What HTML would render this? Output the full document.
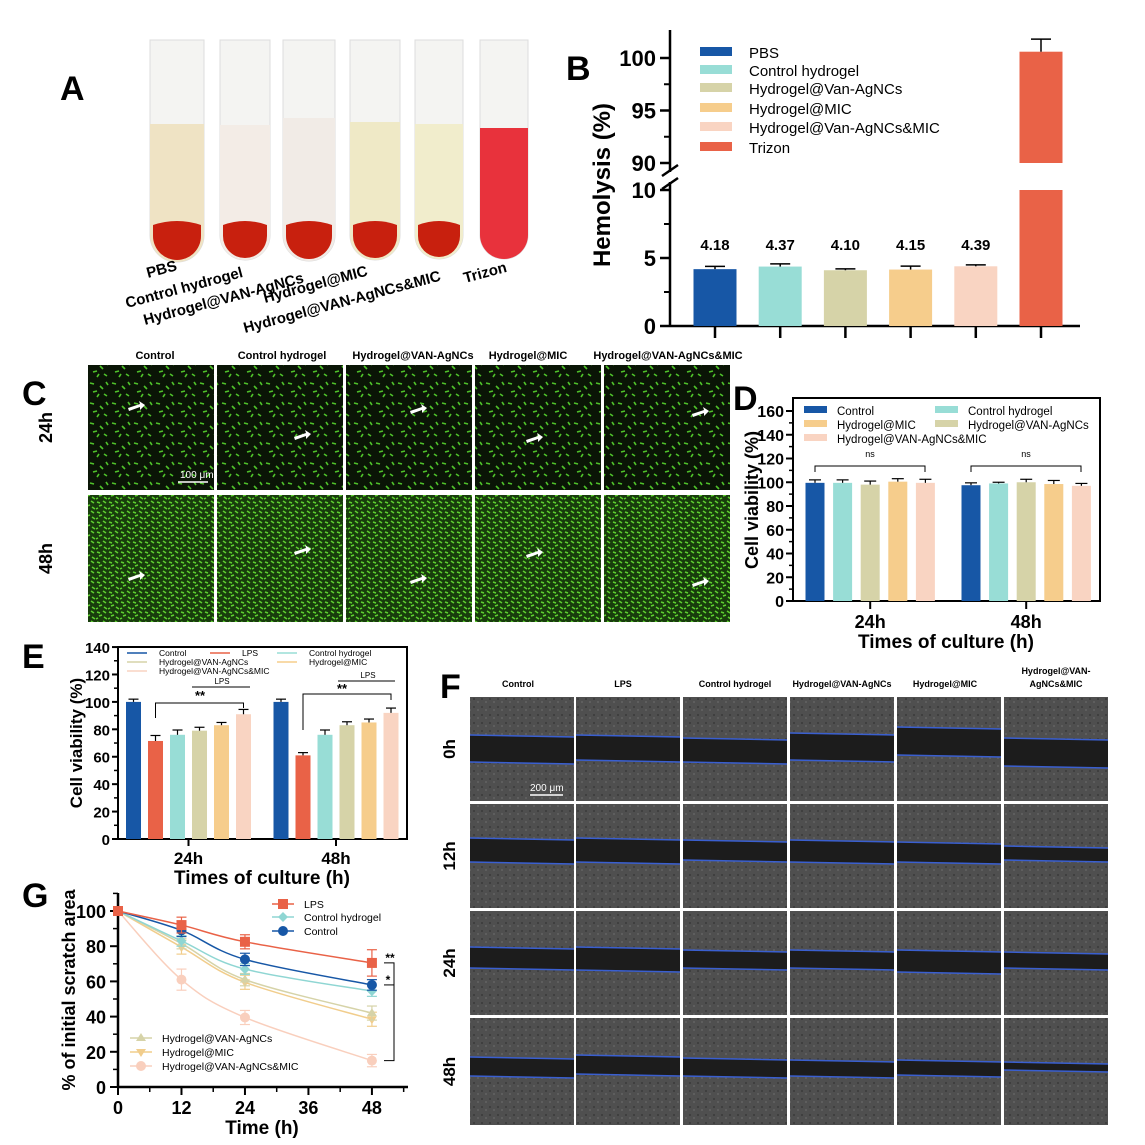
<!DOCTYPE html>
<html><head><meta charset="utf-8">
<style>
html,body{margin:0;padding:0;background:#fff;}
svg{display:block;font-family:"Liberation Sans",Arial,sans-serif;}
</style></head>
<body>
<svg id="fig" width="1145" height="1145" viewBox="0 0 1145 1145" xmlns="http://www.w3.org/2000/svg">
<defs>
<pattern id="g24" width="22" height="20" patternUnits="userSpaceOnUse">
<rect width="22" height="20" fill="#0a1506"/>
<path d="M2 3l4 1M12 6l3 3M5 12l4-1M16 14l3 2M9 17l2-3M18 2l2 3" stroke="#4fc22a" stroke-width="1.6"/>
</pattern>
<pattern id="g48" width="12" height="10" patternUnits="userSpaceOnUse">
<rect width="12" height="10" fill="#183d0c"/>
<path d="M1 2l3 1M7 1l3 2M3 6l3-1M8 7l3 2M0 9l2-1" stroke="#5ed030" stroke-width="1.5"/>
</pattern>
<pattern id="grey" width="8" height="8" patternUnits="userSpaceOnUse">
<rect width="8" height="8" fill="#4f4f4f"/>
<rect x="1" y="2" width="2" height="2" fill="#3f3f3f"/><rect x="5" y="5" width="2" height="2" fill="#5e5e5e"/>
</pattern>
</defs>

<g>
<text x="60" y="100" font-size="34" font-weight="bold">A</text>
<g id="tubes"></g>
<g font-size="15" font-weight="bold">
<text transform="translate(148,278) rotate(-15)">PBS</text>
<text transform="translate(127,308) rotate(-15)">Control hydrogel</text>
<text transform="translate(145,325) rotate(-15)">Hydrogel@VAN-AgNCs</text>
<text transform="translate(265,303) rotate(-15)">Hydrogel@MIC</text>
<text transform="translate(245,333) rotate(-15)">Hydrogel@VAN-AgNCs&amp;MIC</text>
<text transform="translate(465,283) rotate(-15)">Trizon</text>
</g>
</g>

<g id="panelB">
<text x="566" y="80" font-size="34" font-weight="bold">B</text>
</g>
<g id="panelC">
<text x="22" y="405" font-size="34" font-weight="bold">C</text>
</g>
<g id="panelD">
<text x="733" y="410" font-size="34" font-weight="bold">D</text>
</g>
<g id="panelE">
<text x="22" y="668" font-size="34" font-weight="bold">E</text>
</g>
<g id="panelF">
<text x="440" y="698" font-size="34" font-weight="bold">F</text>
</g>
<g id="panelG">
<text x="22" y="907" font-size="34" font-weight="bold">G</text>
</g>
</svg>

<script>
const NS="http://www.w3.org/2000/svg";
function mk(tag,attrs,parent,text){const e=document.createElementNS(NS,tag);for(const k in attrs)e.setAttribute(k,attrs[k]);if(text!==undefined)e.textContent=text;parent.appendChild(e);return e;}

/* ---------- Panel A tubes ---------- */
const tubeX=[150,220,283,350,415,480];
const tubeW=[54,50,52,50,48,48];
const tubeLiquid=["#efe3c4","#f3ece6","#f1ebe6","#efe9c6","#f1edcc","#e8323c"];
const tubeLevel=[124,125,118,122,124,128];
const tubesG=document.getElementById('tubes');
tubeX.forEach((x,i)=>{
  const w=tubeW[i];
  const g=mk('g',{},tubesG);
  
  
  mk('path',{d:`M${x} 40 V${235} a${w/2} ${w/2} 0 0 0 ${w} 0 V40 Z`,fill:'#f4f4f2',stroke:'#ddd'},g);
  mk('path',{d:`M${x} ${tubeLevel[i]} V235 a${w/2} ${w/2} 0 0 0 ${w} 0 V${tubeLevel[i]} Z`,fill:tubeLiquid[i]},g);
  if(i<5) mk('path',{d:`M${x+3} 225 q${w/2-3} -8 ${w-6} 0 V236 a${w/2-3} ${w/2-3} 0 0 1 ${-(w-6)} 0 Z`,fill:'#c8200e'},g);
});

/* ---------- Panel B ---------- */
const bGroups=["PBS","Control hydrogel","Hydrogel@Van-AgNCs","Hydrogel@MIC","Hydrogel@Van-AgNCs&MIC","Trizon"];
const bValues=[4.18,4.37,4.10,4.15,4.39,100.6];
const bErrors=[0.2,0.2,0.1,0.25,0.1,1.2];
const bLabels=["4.18","4.37","4.10","4.15","4.39",""];
const bColors=["#1757a6","#98ddd6","#d6d3a8","#f6cd8c","#f9d4c2","#e96247"];
(function(){
  const P=document.getElementById('panelB');
  const yLow=v=>326-(v/10)*136;
  const yHigh=v=>163-(v-90)*10.5;
  const y=v=>v<=10?yLow(v):yHigh(v);
  const x0=670;
  mk('line',{x1:x0,y1:30,x2:x0,y2:172,stroke:'#000','stroke-width':2.5},P);
  mk('line',{x1:x0,y1:182,x2:x0,y2:327,stroke:'#000','stroke-width':2.5},P);
  mk('line',{x1:x0,y1:326,x2:1080,y2:326,stroke:'#000','stroke-width':2.5},P);
  mk('line',{x1:x0-8,y1:176,x2:x0+8,y2:165,stroke:'#000','stroke-width':2.5},P);
  mk('line',{x1:x0-8,y1:189,x2:x0+8,y2:178,stroke:'#000','stroke-width':2.5},P);
  [0,5,10].forEach(t=>{mk('line',{x1:x0-10,y1:yLow(t),x2:x0,y2:yLow(t),stroke:'#000','stroke-width':2.5},P);
    const tx=mk('text',{x:x0-14,y:yLow(t)+8,'font-size':22,'font-weight':'bold','text-anchor':'end'},P,String(t));
    });
  [2.5,7.5].forEach(t=>mk('line',{x1:x0-6,y1:yLow(t),x2:x0,y2:yLow(t),stroke:'#000','stroke-width':2},P));
  [90,95,100].forEach(t=>{mk('line',{x1:x0-10,y1:yHigh(t),x2:x0,y2:yHigh(t),stroke:'#000','stroke-width':2.5},P);
    const tx=mk('text',{x:x0-14,y:yHigh(t)+8,'font-size':22,'font-weight':'bold','text-anchor':'end'},P,String(t));
    });
  [92.5,97.5].forEach(t=>mk('line',{x1:x0-6,y1:yHigh(t),x2:x0,y2:yHigh(t),stroke:'#000','stroke-width':2},P));
  const yl=mk('text',{transform:'translate(610,185) rotate(-90)','font-size':24,'font-weight':'bold','text-anchor':'middle'},P,'Hemolysis (%)');
  
  bValues.forEach((v,i)=>{
    const cx=715+i*65.2, w=43;
    if(v<=10){
      const r=mk('rect',{x:cx-w/2,y:y(v),width:w,height:326-y(v),fill:bColors[i]},P);
      
    }else{
      const r=mk('rect',{x:cx-w/2,y:yLow(10),width:w,height:326-yLow(10),fill:bColors[i]},P);
      
      const r2=mk('rect',{x:cx-w/2,y:yHigh(v),width:w,height:yHigh(90)-yHigh(v),fill:bColors[i]},P);
      
    }
    const ye=y(v+bErrors[i]);
    mk('line',{x1:cx,y1:y(v),x2:cx,y2:ye,stroke:'#000','stroke-width':1.5},P);
    mk('line',{x1:cx-10,y1:ye,x2:cx+10,y2:ye,stroke:'#000','stroke-width':1.5},P);
    mk('line',{x1:cx,y1:326,x2:cx,y2:338,stroke:'#000','stroke-width':2.5},P);
    if(bLabels[i]){const t=mk('text',{x:cx,y:250,'font-size':15,'font-weight':'bold','text-anchor':'middle'},P,bLabels[i]);
      }
  });
  const ly=[52,70,88,108,127,147];
  bGroups.forEach((g,i)=>{
    const e=mk('g',{},P);
    
    mk('rect',{x:700,y:ly[i]-5,width:32,height:9,fill:bColors[i]},e);
    mk('text',{x:749,y:ly[i]+6,'font-size':15},e,g);
  });
})();

/* ---------- Panel C ---------- */
const cCols=["Control","Control hydrogel","Hydrogel@VAN-AgNCs","Hydrogel@MIC","Hydrogel@VAN-AgNCs&MIC"];
const cRows=["24h","48h"];
(function(){
  const P=document.getElementById('panelC');
  const xs=[88,217,346,475,604], colX=[155,282,413,528,668];
  cCols.forEach((c,i)=>{const t=mk('text',{x:colX[i],y:359,'font-size':11,'font-weight':'bold','text-anchor':'middle'},P,c);
    });
  cRows.forEach((r,j)=>{
    const y0=j?495:365, h=j?127:125;
    const t=mk('text',{transform:`translate(52,${y0+h/2}) rotate(-90)`,'font-size':18,'font-weight':'bold','text-anchor':'middle'},P,r);
    
    xs.forEach((x,i)=>{
      const im=mk('rect',{x:x,y:y0,width:126,height:h,fill:j?'url(#g48)':'url(#g24)'},P);
      
      const ax=x+40+((i*37)%50), ay=y0+40+((i*29+j*40)%55);
      mk('path',{d:`M${ax} ${ay+3} l12 -4 l-1 -3 l6 4 l-5 5 l0 -3 l-11 4 z`,fill:'#fff'},P);
    });
  });
  mk('line',{x1:178,y1:482,x2:208,y2:482,stroke:'#fff','stroke-width':1.5},P);
  mk('text',{x:180,y:478,'font-size':10,fill:'#fff'},P,'100 μm');
})();

/* ---------- Panel D ---------- */
const dGroups=["Control","Control hydrogel","Hydrogel@VAN-AgNCs","Hydrogel@MIC","Hydrogel@VAN-AgNCs&MIC"];
const dTimes=["24h","48h"];
const d24=[99.5,99.5,98,100.5,99.5];
const d48=[97.5,99,100,98.5,97];
const dErr24=[2.5,2.5,3,2.5,3];
const dErr48=[2,1,2.5,3,2];
const dTicks=[0,20,40,60,80,100,120,140,160];
const dColors=["#1757a6","#98ddd6","#d6d3a8","#f6cd8c","#f9d4c2"];
(function(){
  const P=document.getElementById('panelD');
  const y=v=>601-v*1.1875;
  const x0=793;
  mk('rect',{x:x0,y:398,width:307,height:203,fill:'none',stroke:'#000','stroke-width':2},P);
  dTicks.forEach(t=>{mk('line',{x1:x0-7,y1:y(t),x2:x0,y2:y(t),stroke:'#000','stroke-width':2},P);
    const tx=mk('text',{x:x0-9,y:y(t)+6,'font-size':16,'font-weight':'bold','text-anchor':'end'},P,String(t));
    
    if(t<160)mk('line',{x1:x0-4,y1:y(t+10),x2:x0,y2:y(t+10),stroke:'#000','stroke-width':1.5},P);});
  const yl=mk('text',{transform:'translate(758,500) rotate(-90)','font-size':18,'font-weight':'bold','text-anchor':'middle'},P,'Cell viability (%)');
  
  [d24,d48].forEach((arr,k)=>{
    const errs=k?dErr48:dErr24, base=k?971:815;
    arr.forEach((v,i)=>{
      const cx=base+i*27.6;
      const r=mk('rect',{x:cx-9.5,y:y(v),width:19,height:601-y(v),fill:dColors[i]},P);
      
      mk('line',{x1:cx,y1:y(v),x2:cx,y2:y(v+errs[i]),stroke:'#000','stroke-width':1.2},P);
      mk('line',{x1:cx-6,y1:y(v+errs[i]),x2:cx+6,y2:y(v+errs[i]),stroke:'#000','stroke-width':1.2},P);
    });
    const mid=base+2*27.6;
    mk('line',{x1:mid,y1:601,x2:mid,y2:609,stroke:'#000','stroke-width':2},P);
    const t=mk('text',{x:mid,y:628,'font-size':18,'font-weight':'bold','text-anchor':'middle'},P,dTimes[k]);
    
    mk('path',{d:`M${base} 472 V466 H${base+110} V472`,fill:'none',stroke:'#000','stroke-width':1},P);
    mk('text',{x:base+55,y:457,'font-size':9,'text-anchor':'middle'},P,'ns');
  });
  const xt=mk('text',{x:946,y:648,'font-size':19,'font-weight':'bold','text-anchor':'middle'},P,'Times of culture (h)');
  
  const leg=[[0,804,411],[1,935,411],[3,804,425],[2,935,425],[4,804,439]];
  leg.forEach(([i,x,yy])=>{const e=mk('g',{},P);
    
    mk('rect',{x:x,y:yy-5,width:23,height:7,fill:dColors[i]},e);
    mk('text',{x:x+33,y:yy+4,'font-size':11.5},e,dGroups[i]);});
})();

/* ---------- Panel E ---------- */
const eGroups=["Control","LPS","Control hydrogel","Hydrogel@VAN-AgNCs","Hydrogel@MIC","Hydrogel@VAN-AgNCs&MIC"];
const eTimes=["24h","48h"];
const e24=[100,71.5,76,79,83,91];
const e48=[100,61,76,83,85,92];
const eErr24=[2,4,3.5,2.5,2,3.5];
const eErr48=[2,2,3.5,2.5,2.5,3.5];
const eTicks=[0,20,40,60,80,100,120,140];
const eColors=["#1757a6","#e96247","#98ddd6","#d6d3a8","#f6cd8c","#f9d4c2"];
(function(){
  const P=document.getElementById('panelE');
  const y=v=>839-v*1.371;
  const x0=118;
  mk('rect',{x:x0,y:647,width:289,height:192,fill:'none',stroke:'#000','stroke-width':2},P);
  eTicks.forEach(t=>{mk('line',{x1:x0-6,y1:y(t),x2:x0,y2:y(t),stroke:'#000','stroke-width':2},P);
    const tx=mk('text',{x:x0-8,y:y(t)+6,'font-size':15,'font-weight':'bold','text-anchor':'end'},P,String(t));
    
    if(t<140)mk('line',{x1:x0-4,y1:y(t+10),x2:x0,y2:y(t+10),stroke:'#000','stroke-width':1.5},P);});
  const yl=mk('text',{transform:'translate(82,743) rotate(-90)','font-size':17,'font-weight':'bold','text-anchor':'middle'},P,'Cell viability (%)');
  
  [e24,e48].forEach((arr,k)=>{
    const errs=k?eErr48:eErr24, base=k?281:133.5;
    arr.forEach((v,i)=>{
      const cx=base+i*22;
      const r=mk('rect',{x:cx-7.5,y:y(v),width:15,height:839-y(v),fill:eColors[i]},P);
      
      mk('line',{x1:cx,y1:y(v),x2:cx,y2:y(v+errs[i]),stroke:'#000','stroke-width':1.2},P);
      mk('line',{x1:cx-5,y1:y(v+errs[i]),x2:cx+5,y2:y(v+errs[i]),stroke:'#000','stroke-width':1.2},P);
    });
    const mid=base+55;
    mk('line',{x1:mid,y1:839,x2:mid,y2:846,stroke:'#000','stroke-width':2},P);
    const t=mk('text',{x:mid,y:864,'font-size':17,'font-weight':'bold','text-anchor':'middle'},P,eTimes[k]);
    
    const b1=base+22, b2=base+110;
    mk('path',{d:`M${b1} ${k?730:718} V${k?694:703} H${b2} V${k?700:708}`,fill:'none',stroke:'#000','stroke-width':1},P);
    mk('text',{x:k?342:200,y:k?693:700,'font-size':13,'font-weight':'bold','text-anchor':'middle'},P,'**');
    mk('line',{x1:k?338:192,y1:k?681:687,x2:k?395:250,y2:k?681:687,stroke:'#000','stroke-width':1},P);
    mk('text',{x:k?368:222,y:k?678:684,'font-size':8,'text-anchor':'middle'},P,'LPS');
  });
  const xt=mk('text',{x:262,y:884,'font-size':19,'font-weight':'bold','text-anchor':'middle'},P,'Times of culture (h)');
  
  const leg=[[0,127,656],[1,210,656],[2,277,656],[3,127,665],[4,277,665],[5,127,674]];
  leg.forEach(([i,x,yy])=>{const e=mk('g',{},P);
    
    mk('line',{x1:x,y1:yy-3,x2:x+20,y2:yy-3,stroke:eColors[i],'stroke-width':1.5},e);
    mk('text',{x:x+32,y:yy,'font-size':8.5},e,eGroups[i]);});
})();

/* ---------- Panel F ---------- */
const fCols=["Control","LPS","Control  hydrogel","Hydrogel@VAN-AgNCs","Hydrogel@MIC","Hydrogel@VAN-AgNCs&MIC"];
const fRows=["0h","12h","24h","48h"];
(function(){
  const P=document.getElementById('panelF');
  const xs=[470,576,683,790,897,1004], ys=[697,804,911,1018], hs=[104,104,104,107];
  const bandTop=[[735,735,738,733,727,738],[838,838,840,840,842,846],[947,947,950,950,950,952],[1057,1055,1058,1060,1060,1062]];
  const bandBot=[[762,760,762,760,755,766],[862,862,860,862,862,860],[968,970,968,968,972,968],[1076,1074,1076,1076,1075,1070]];
  const hx=[518,623,735,842,945,1056];
  fCols.forEach((c,i)=>{
    if(i===5){mk('text',{x:hx[i],y:674,'font-size':9,'font-weight':'bold','text-anchor':'middle'},P,'Hydrogel@VAN-');
      mk('text',{x:hx[i],y:687,'font-size':9,'font-weight':'bold','text-anchor':'middle'},P,'AgNCs&MIC');}
    else {const t=mk('text',{x:hx[i],y:687,'font-size':9,'font-weight':'bold','text-anchor':'middle'},P,c);
      }
  });
  fRows.forEach((r,j)=>{
    const t=mk('text',{transform:`translate(455,${ys[j]+hs[j]/2}) rotate(-90)`,'font-size':17,'font-weight':'bold','text-anchor':'middle'},P,r);
    
    xs.forEach((x,i)=>{
      const im=mk('rect',{x:x,y:ys[j],width:104,height:hs[j],fill:'url(#grey)'},P);
      
      const a=bandTop[j][i], b=bandBot[j][i];
      mk('path',{d:`M${x} ${a} L${x+104} ${a+2} L${x+104} ${b+2} L${x} ${b} Z`,fill:'#1c1c1c'},P);
      mk('line',{x1:x,y1:a,x2:x+104,y2:a+2,stroke:'#3a5fd0','stroke-width':1.5},P);
      mk('line',{x1:x,y1:b,x2:x+104,y2:b+2,stroke:'#3a5fd0','stroke-width':1.5},P);
    });
  });
  mk('line',{x1:530,y1:795,x2:563,y2:795,stroke:'#fff','stroke-width':1.5},P);
  mk('text',{x:530,y:791,'font-size':10,fill:'#fff'},P,'200 μm');
})();

/* ---------- Panel G ---------- */
const gTimes=[0,12,24,48];
const gLPS=[100,92,82.5,70.5];
const gCtrlHydrogel=[100,83,67,54.5];
const gControl=[100,89,72.5,58];
const gVan=[100,81.5,61,42];
const gMIC=[100,79.5,59.5,38.5];
const gBoth=[100,61,39.5,15];
const gErr=[[0,4.5,4,7.5],[0,3,3,3],[0,3.5,3.5,3],[0,3,3.5,4],[0,4,4,4],[0,6,4,3.5]];
const gNames=["LPS","Control hydrogel","Control","Hydrogel@VAN-AgNCs","Hydrogel@MIC","Hydrogel@VAN-AgNCs&MIC"];
const gXTicks=[0,12,24,36,48];
const gYTicks=[0,20,40,60,80,100];
const gColors=["#e96247","#8fd6d3","#1757a6","#d6d3a8","#f1cd8c","#f9cfbd"];
const gMarkers=["square","diamond","circle","triangle","tri-down","circle"];
(function(){
  const P=document.getElementById('panelG');
  const x=t=>118+t*5.29;
  const y=v=>1087-v*1.76;
  mk('line',{x1:118,y1:893,x2:118,y2:1088,stroke:'#000','stroke-width':2.5},P);
  mk('line',{x1:117,y1:1087,x2:408,y2:1087,stroke:'#000','stroke-width':2.5},P);
  gYTicks.forEach(t=>{mk('line',{x1:110,y1:y(t),x2:118,y2:y(t),stroke:'#000','stroke-width':2},P);
    const tx=mk('text',{x:106,y:y(t)+7,'font-size':18,'font-weight':'bold','text-anchor':'end'},P,String(t));
    
    mk('line',{x1:113,y1:y(t+10),x2:118,y2:y(t+10),stroke:'#000','stroke-width':1.5},P);});
  gXTicks.forEach(t=>{mk('line',{x1:x(t),y1:1087,x2:x(t),y2:1095,stroke:'#000','stroke-width':2},P);
    mk('line',{x1:x(t+6),y1:1087,x2:x(t+6),y2:1092,stroke:'#000','stroke-width':1.5},P);
    const tx=mk('text',{x:x(t),y:1114,'font-size':18,'font-weight':'bold','text-anchor':'middle'},P,String(t));
    });
  const yl=mk('text',{transform:'translate(75,990) rotate(-90)','font-size':18,'font-weight':'bold','text-anchor':'middle'},P,'% of initial scratch area');
  
  const xt=mk('text',{x:262,y:1134,'font-size':19,'font-weight':'bold','text-anchor':'middle'},P,'Time (h)');
  
  function marker(g,type,cx,cy,c){
    if(type==='square')mk('rect',{x:cx-5,y:cy-5,width:10,height:10,fill:c},g);
    else if(type==='diamond')mk('path',{d:`M${cx} ${cy-5}l5 5-5 5-5-5z`,fill:c},g);
    else if(type==='triangle')mk('path',{d:`M${cx} ${cy-5}l5 8h-10z`,fill:c},g);
    else if(type==='tri-down')mk('path',{d:`M${cx} ${cy+5}l5-8h-10z`,fill:c},g);
    else mk('circle',{cx:cx,cy:cy,r:5,fill:c},g);
  }
  const series=[gLPS,gCtrlHydrogel,gControl,gVan,gMIC,gBoth];
  [5,4,3,1,2,0].forEach(s=>{
    const arr=series[s], g=mk('g',{},P);
    
    
    const pts=arr.map((v,i)=>[x(gTimes[i]),y(v)]);
    let d=`M${pts[0][0]} ${pts[0][1]}`;
    for(let i=0;i<pts.length-1;i++){
      const p0=pts[Math.max(0,i-1)],p1=pts[i],p2=pts[i+1],p3=pts[Math.min(pts.length-1,i+2)];
      const c1=[p1[0]+(p2[0]-p0[0])/6,p1[1]+(p2[1]-p0[1])/6],c2=[p2[0]-(p3[0]-p1[0])/6,p2[1]-(p3[1]-p1[1])/6];
      d+=` C${c1[0]} ${c1[1]} ${c2[0]} ${c2[1]} ${p2[0]} ${p2[1]}`;
    }
    mk('path',{d:d,fill:'none',stroke:gColors[s],'stroke-width':1.5},g);
    arr.forEach((v,i)=>{
      const e=gErr[s][i], cx=x(gTimes[i]);
      if(e){mk('line',{x1:cx,y1:y(v-e),x2:cx,y2:y(v+e),stroke:gColors[s],'stroke-width':1.2},g);
        mk('line',{x1:cx-5,y1:y(v+e),x2:cx+5,y2:y(v+e),stroke:gColors[s],'stroke-width':1.2},g);
        mk('line',{x1:cx-5,y1:y(v-e),x2:cx+5,y2:y(v-e),stroke:gColors[s],'stroke-width':1.2},g);}
      marker(g,gMarkers[s],cx,y(v),gColors[s]);
    });
  });
  mk('path',{d:`M384 ${y(70.5)} H394 V${y(15)} H384`,fill:'none',stroke:'#000','stroke-width':1},P);
  mk('path',{d:`M384 ${y(58)} H394`,fill:'none',stroke:'#000','stroke-width':1},P);
  mk('text',{x:390,y:y(70.5)-1,'font-size':12,'font-weight':'bold','text-anchor':'middle'},P,'**');
  mk('text',{x:388,y:y(58)-1,'font-size':12,'font-weight':'bold','text-anchor':'middle'},P,'*');
  const leg=[[0,272,904],[1,272,917],[2,272,931],[3,130,1038],[4,130,1052],[5,130,1066]];
  leg.forEach(([i,lx,ly])=>{const e=mk('g',{},P);
    
    mk('line',{x1:lx,y1:ly,x2:lx+22,y2:ly,stroke:gColors[i],'stroke-width':1.5},e);
    marker(e,gMarkers[i],lx+11,ly,gColors[i]);
    mk('text',{x:lx+32,y:ly+4,'font-size':10.5},e,gNames[i]);});
})();
</script>
</body></html>
